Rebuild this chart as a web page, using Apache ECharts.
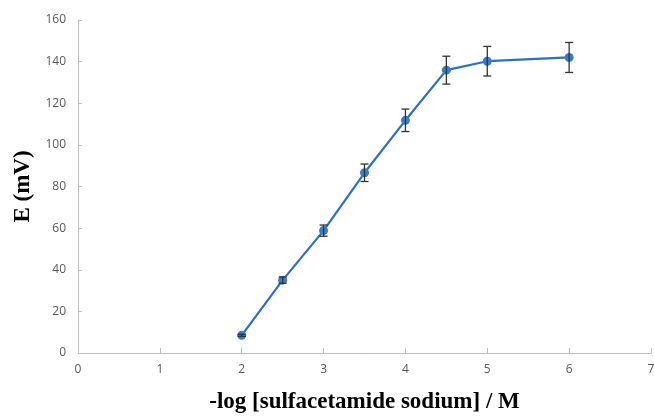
<!DOCTYPE html>
<html>
<head>
<meta charset="utf-8">
<script src="https://cdn.jsdelivr.net/npm/echarts@6/dist/echarts.min.js"></script>
<style>
  html, body { margin: 0; padding: 0; background: #fff; }
  #chart { width: 654px; height: 418px; }
</style>
</head>
<body>
<div id="chart"></div>
<script>
var logConc = [2, 2.5, 3, 3.5, 4, 4.5, 5, 6];
var potential = [8.5, 35, 58.8, 86.6, 111.8, 135.9, 140.2, 142];
var errors = [0.5, 1.5, 2.7, 4.2, 5.4, 6.7, 7.1, 7.2];
var xTicks = [0, 1, 2, 3, 4, 5, 6, 7];

var chart = echarts.init(document.getElementById('chart'));

var points = logConc.map(function (x, i) { return [x, potential[i]]; });
var bars = logConc.map(function (x, i) {
  return [x, potential[i] - errors[i], potential[i] + errors[i]];
});

function renderError(params, api) {
  var lo = api.coord([api.value(0), api.value(1)]);
  var hi = api.coord([api.value(0), api.value(2)]);
  var w = 4;
  var st = { stroke: '#333', lineWidth: 1.3 };
  return {
    type: 'group',
    children: [
      { type: 'line', shape: { x1: lo[0], y1: lo[1], x2: hi[0], y2: hi[1] }, style: st },
      { type: 'line', shape: { x1: lo[0] - w, y1: lo[1], x2: lo[0] + w, y2: lo[1] }, style: st },
      { type: 'line', shape: { x1: hi[0] - w, y1: hi[1], x2: hi[0] + w, y2: hi[1] }, style: st }
    ]
  };
}

var option = {
  animation: false,
  grid: { left: 78, right: 3, top: 20, bottom: 65, containLabel: false, outerBoundsMode: 'none' },
  xAxis: {
    type: 'value',
    min: 0,
    max: 7,
    interval: 1,
    name: '-log [sulfacetamide sodium] / M',
    nameLocation: 'middle',
    nameGap: 38,
    nameTextStyle: { fontFamily: 'Liberation Serif', fontWeight: 'bold', fontSize: 23, color: '#000' },
    axisLine: { show: true, lineStyle: { color: '#bfbfbf', width: 1 } },
    axisTick: { show: true, inside: true, length: 5, lineStyle: { color: '#bfbfbf' } },
    axisLabel: {
      color: '#595959', fontSize: 12, fontFamily: 'Open Sans', margin: 11,
      formatter: function (v) { return xTicks.indexOf(v) >= 0 ? String(v) : ''; }
    },
    splitLine: { show: false }
  },
  yAxis: {
    type: 'value',
    min: 0,
    max: 160,
    interval: 20,
    name: 'E (mV)',
    nameLocation: 'middle',
    nameGap: 43,
    nameTextStyle: { fontFamily: 'Liberation Serif', fontWeight: 'bold', fontSize: 23, color: '#000' },
    axisLine: { show: true, lineStyle: { color: '#bfbfbf', width: 1 } },
    axisTick: { show: true, inside: true, length: 4, lineStyle: { color: '#bfbfbf' } },
    axisLabel: { color: '#595959', fontSize: 12, fontFamily: 'Open Sans', margin: 12 },
    splitLine: { show: false }
  },
  series: [
    {
      type: 'line',
      data: points,
      symbol: 'circle',
      symbolSize: 9,
      lineStyle: { color: '#2e6fbf', width: 2.2 },
      itemStyle: { color: '#3b7bc8' },
      z: 3
    },
    {
      type: 'custom',
      renderItem: renderError,
      data: bars,
      encode: { x: 0, y: [1, 2] },
      z: 4
    }
  ]
};
chart.setOption(option);
</script>
</body>
</html>
